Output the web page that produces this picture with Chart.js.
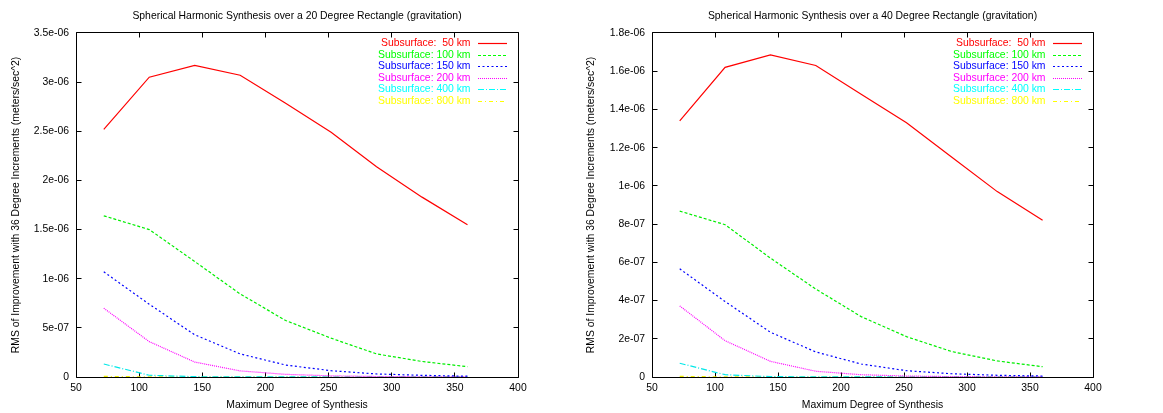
<!DOCTYPE html>
<html>
<head>
<meta charset="utf-8">
<script src="https://cdn.jsdelivr.net/npm/chart.js@4/dist/chart.umd.min.js"></script>
<style>
  html, body { margin: 0; padding: 0; background: #fff; }
  #wrap { position: relative; width: 1163px; height: 413px; }
  .panel { position: absolute; top: 0; height: 413px; }
</style>
</head>
<body>
<div id="wrap">
  <div class="panel" style="left:0;width:581px"><canvas id="rect20" width="581" height="413"></canvas></div>
  <div class="panel" style="left:581px;width:582px"><canvas id="rect40" width="582" height="413"></canvas></div>
</div>
<script>
// Maximum degree of synthesis (36 degree increments)
const degrees = [72, 108, 144, 180, 216, 252, 288, 324, 360];

// Legend labels, one per subsurface depth
const depthLabels = [
  'Subsurface:  50 km',
  'Subsurface: 100 km',
  'Subsurface: 150 km',
  'Subsurface: 200 km',
  'Subsurface: 400 km',
  'Subsurface: 800 km'
];

// RMS of improvement (m/s^2), 20 degree rectangle
const rect20_50km  = [2.52e-6, 3.05e-6, 3.17e-6, 3.07e-6, 2.785e-6, 2.49e-6, 2.14e-6, 1.83e-6, 1.55e-6];
const rect20_100km = [1.64e-6, 1.50e-6, 1.175e-6, 0.845e-6, 0.575e-6, 0.395e-6, 0.235e-6, 0.158e-6, 0.105e-6];
const rect20_150km = [1.07e-6, 0.74e-6, 0.43e-6, 0.235e-6, 0.122e-6, 0.064e-6, 0.031e-6, 0.017e-6, 0.008e-6];
const rect20_200km = [0.70e-6, 0.36e-6, 0.152e-6, 0.062e-6, 0.027e-6, 0.012e-6, 0.005e-6, 0.002e-6, 0.001e-6];
const rect20_400km = [0.132e-6, 0.018e-6, 0.003e-6, 0.001e-6, 0.0005e-6, 0.0002e-6, 0.0001e-6, 0.00005e-6, 0.00002e-6];
const rect20_800km = [0.006e-6, 0.0005e-6, 0.0001e-6, 0.00003e-6, 0.00001e-6, 0.000005e-6, 0.000002e-6, 0.000001e-6, 0.0000005e-6];

// RMS of improvement (m/s^2), 40 degree rectangle
const rect40_50km  = [1.34e-6, 1.62e-6, 1.685e-6, 1.63e-6, 1.48e-6, 1.33e-6, 1.15e-6, 0.97e-6, 0.82e-6];
const rect40_100km = [0.868e-6, 0.797e-6, 0.622e-6, 0.46e-6, 0.316e-6, 0.211e-6, 0.133e-6, 0.084e-6, 0.054e-6];
const rect40_150km = [0.566e-6, 0.395e-6, 0.234e-6, 0.131e-6, 0.068e-6, 0.033e-6, 0.017e-6, 0.009e-6, 0.005e-6];
const rect40_200km = [0.372e-6, 0.19e-6, 0.082e-6, 0.03e-6, 0.012e-6, 0.005e-6, 0.002e-6, 0.001e-6, 0.0005e-6];
const rect40_400km = [0.072e-6, 0.012e-6, 0.002e-6, 0.0006e-6, 0.0002e-6, 0.0001e-6, 0.00005e-6, 0.00002e-6, 0.00001e-6];
const rect40_800km = [0.003e-6, 0.0003e-6, 0.00005e-6, 0.00002e-6, 0.00001e-6, 0.000005e-6, 0.000002e-6, 0.000001e-6, 0.0000005e-6];

// Tick labels
const xTickLabels      = ['50', '100', '150', '200', '250', '300', '350', '400'];
const yTickLabels20    = ['0', '5e-07', '1e-06', '1.5e-06', '2e-06', '2.5e-06', '3e-06', '3.5e-06'];
const yTickLabels40    = ['0', '2e-07', '4e-07', '6e-07', '8e-07', '1e-06', '1.2e-06', '1.4e-06', '1.6e-06', '1.8e-06'];

// Line styles per depth
const lineColors = ['#ff0000', '#00ee00', '#0000ff', '#ff00ff', '#00e8e8', '#eeee00'];
const legendColors = ['#ff0000', '#00ff00', '#0000ff', '#ff00ff', '#00ffff', '#ffff00'];
const lineDashes = [[], [3, 2], [2, 2.5], [1, 1], [6, 2, 1, 2], [4, 3, 1, 3]];

const FONT_FAMILY = '"Liberation Sans", Arial, Helvetica, sans-serif';
const FONT_SIZE = 10.4;
Chart.defaults.font.family = FONT_FAMILY;
Chart.defaults.font.size = FONT_SIZE;
Chart.defaults.color = '#000';

// Plot frame on all four sides with inward tick marks (mirrored)
const frameTicks = {
  id: 'frameTicks',
  beforeDatasetsDraw(chart) {
    const { ctx, chartArea: a, scales: { x, y } } = chart;
    const L = Math.floor(a.left) + 0.5, R = Math.floor(a.right) + 0.5;
    const T = Math.floor(a.top) + 0.5, B = Math.floor(a.bottom) + 0.5;
    const len = 5;
    ctx.save();
    ctx.strokeStyle = '#000';
    ctx.lineWidth = 1;
    ctx.setLineDash([]);
    ctx.beginPath();
    ctx.rect(L, T, R - L, B - T);
    x.ticks.forEach(t => {
      const px = Math.floor(x.getPixelForValue(t.value)) + 0.5;
      ctx.moveTo(px, B); ctx.lineTo(px, B - len);
      ctx.moveTo(px, T); ctx.lineTo(px, T + len);
    });
    y.ticks.forEach(t => {
      const py = Math.floor(y.getPixelForValue(t.value)) + 0.5;
      ctx.moveTo(L, py); ctx.lineTo(L + len, py);
      ctx.moveTo(R, py); ctx.lineTo(R - len, py);
    });
    ctx.stroke();
    ctx.restore();
  }
};

// Key in the upper right corner: label text right-aligned, line sample after it
const keyBox = {
  id: 'keyBox',
  afterDatasetsDraw(chart) {
    const { ctx, chartArea: a } = chart;
    ctx.save();
    ctx.font = FONT_SIZE + 'px ' + FONT_FAMILY;
    ctx.textAlign = 'right';
    ctx.textBaseline = 'middle';
    chart.data.datasets.forEach((ds, i) => {
      const yy = Math.round(a.top + 10.5 + i * 11.5) + 0.5;
      ctx.fillStyle = legendColors[i];
      ctx.fillText(ds.label, a.right - 47.5, yy);
    });
    chart.data.datasets.forEach((ds, i) => {
      const yy = Math.round(a.top + 10.5 + i * 11.5) + 0.5;
      ctx.beginPath();
      ctx.strokeStyle = legendColors[i];
      ctx.lineWidth = 1.2;
      ctx.setLineDash(lineDashes[i]);
      ctx.moveTo(a.right - 40, yy);
      ctx.lineTo(a.right - 11, yy);
      ctx.stroke();
    });
    ctx.restore();
  }
};

function makeDatasets(seriesList) {
  return seriesList.map((vals, i) => ({
    label: depthLabels[i],
    data: degrees.map((d, k) => ({ x: d, y: vals[k] })),
    borderColor: lineColors[i],
    borderWidth: 1.2,
    borderDash: lineDashes[i],
    pointRadius: 0,
    fill: false,
    tension: 0
  }));
}

function makeChart(canvasId, title, seriesList, yTickLabels, yAxisWidth, rightPad, yTitlePad) {
  const yTicks = yTickLabels.map(Number);
  const xTicks = xTickLabels.map(Number);
  return new Chart(document.getElementById(canvasId), {
    type: 'line',
    data: { datasets: makeDatasets(seriesList) },
    plugins: [frameTicks, keyBox],
    options: {
      responsive: false,
      animation: false,
      events: [],
      layout: { padding: { left: 0, right: rightPad, top: 0, bottom: 0 } },
      plugins: {
        legend: { display: false },
        tooltip: { enabled: false },
        title: {
          display: true,
          text: title,
          fullSize: false,
          color: '#000',
          font: { size: FONT_SIZE, weight: 'normal' },
          padding: { top: 9.8, bottom: 10.7 }
        }
      },
      scales: {
        x: {
          type: 'linear',
          min: xTicks[0],
          max: xTicks[xTicks.length - 1],
          grid: { display: false, drawTicks: false },
          border: { display: false },
          afterBuildTicks: s => { s.ticks = xTicks.map(v => ({ value: v })); },
          afterFit: s => { s.height = 36; },
          ticks: {
            autoSkip: false,
            maxRotation: 0,
            padding: 5,
            color: '#000',
            callback: (v) => xTickLabels[xTicks.indexOf(v)]
          },
          title: {
            display: true,
            text: 'Maximum Degree of Synthesis',
            color: '#000',
            padding: { top: 0, bottom: 1.8 }
          }
        },
        y: {
          type: 'linear',
          min: yTicks[0],
          max: yTicks[yTicks.length - 1],
          grid: { display: false, drawTicks: false },
          border: { display: false },
          afterBuildTicks: s => { s.ticks = yTicks.map(v => ({ value: v })); },
          afterFit: s => { s.width = yAxisWidth; },
          ticks: {
            autoSkip: false,
            padding: 7,
            color: '#000',
            callback: (v) => yTickLabels[yTicks.indexOf(v)]
          },
          title: {
            display: true,
            text: 'RMS of Improvement with 36 Degree Increments (meters/sec^2)',
            color: '#000',
            padding: { top: yTitlePad, bottom: 0 }
          }
        }
      }
    }
  });
}

makeChart('rect20',
  'Spherical Harmonic Synthesis over a 20 Degree Rectangle (gravitation)',
  [rect20_50km, rect20_100km, rect20_150km, rect20_200km, rect20_400km, rect20_800km],
  yTickLabels20, 76, 63, 9.8);

makeChart('rect40',
  'Spherical Harmonic Synthesis over a 40 Degree Rectangle (gravitation)',
  [rect40_50km, rect40_100km, rect40_150km, rect40_200km, rect40_400km, rect40_800km],
  yTickLabels40, 71, 70, 4.4);
</script>
</body>
</html>
